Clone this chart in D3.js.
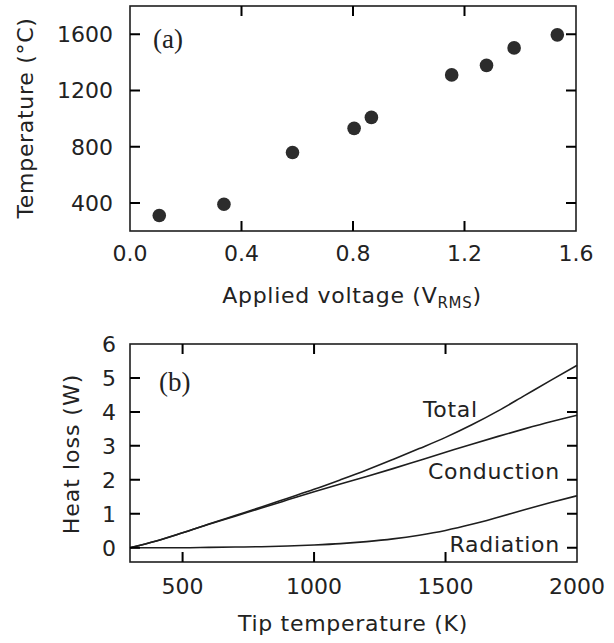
<!DOCTYPE html>
<html>
<head>
<meta charset="utf-8">
<script src="https://cdn.jsdelivr.net/npm/d3@7"></script>
<style>
  html, body { margin: 0; padding: 0; background: #fff; }
  svg { display: block; }
  text { font-family: "DejaVu Sans", sans-serif; fill: #222; }
</style>
</head>
<body>
<svg id="chart" width="614" height="643"></svg>
<script>
// ---------- Panel (a) data ----------
const voltage = [0.105, 0.337, 0.583, 0.804, 0.866, 1.154, 1.279, 1.378, 1.533];
const temperature = [310, 390, 758, 930, 1008, 1310, 1378, 1502, 1595];
const xTicksA = [0.0, 0.4, 0.8, 1.2, 1.6];
const yTicksA = [400, 800, 1200, 1600];

// ---------- Panel (b) data ----------
const tipTemp    = [300, 400, 500, 600, 700, 800, 900, 1000, 1100, 1200, 1300, 1400, 1500, 1600, 1700, 1800, 1900, 2000];
const conduction = [0, 0.20, 0.44, 0.69, 0.93, 1.17, 1.41, 1.65, 1.88, 2.10, 2.33, 2.57, 2.81, 3.05, 3.28, 3.50, 3.71, 3.90];
const radiation  = [0, 0.00, 0.00, 0.01, 0.02, 0.03, 0.05, 0.08, 0.12, 0.18, 0.26, 0.37, 0.51, 0.69, 0.90, 1.12, 1.33, 1.53];
const total      = [0, 0.20, 0.44, 0.70, 0.95, 1.20, 1.46, 1.72, 2.00, 2.29, 2.60, 2.92, 3.25, 3.62, 4.03, 4.48, 4.93, 5.37];
const xTicksB = [500, 1000, 1500, 2000];
const yTicksB = [0, 1, 2, 3, 4, 5, 6];
const curveNames = ["Total", "Conduction", "Radiation"];

const svg = d3.select("#chart");
const ink = "#1e1e1e";
const tickInk = "#000000";
const TL = 10;

// scales
const xA = d3.scaleLinear().domain([0, 1.6]).range([130, 576]);
const yA = d3.scaleLinear().domain([200, 1800]).range([231, 6]);
const xB = d3.scaleLinear().domain([300, 2000]).range([130, 577]);
const yB = d3.scaleLinear().domain([-0.42, 6]).range([562, 344]);

// build inward tick segments for both panels from the scales
const tickSegs = [];
function collectTicks(x, y, xInner, yInner) {
  const [x0, x1] = x.range();
  const [y0, y1] = y.range();
  xInner.forEach(v => {
    tickSegs.push([x(v), y0, x(v), y0 - TL]);
    tickSegs.push([x(v), y1, x(v), y1 + TL]);
  });
  yInner.forEach(v => {
    tickSegs.push([x0, y(v), x0 + TL, y(v)]);
    tickSegs.push([x1, y(v), x1 - TL, y(v)]);
  });
}
collectTicks(xA, yA, [0.4, 0.8, 1.2], yTicksA);
collectTicks(xB, yB, [500, 1000, 1500], [0, 1, 2, 3, 4, 5]);

function framePanel(g, x, y, xt, yt, xfmt, yfmt, padX, padY) {
  const [x0, x1] = x.range();
  const [y0, y1] = y.range();
  g.append("rect").attr("x", x0).attr("y", y1).attr("width", x1 - x0).attr("height", y0 - y1)
    .attr("fill", "none").attr("stroke", ink).attr("stroke-width", 1.6);
  g.selectAll("text.xl").data(xt).enter().append("text").attr("class", "xl")
    .attr("x", d => x(d)).attr("y", y0 + padX).attr("text-anchor", "middle")
    .attr("dominant-baseline", "hanging").style("font-size", "22px").text(xfmt);
  g.selectAll("text.yl").data(yt).enter().append("text").attr("class", "yl")
    .attr("x", x0 - padY).attr("y", d => y(d)).attr("dy", "0.36em").attr("text-anchor", "end")
    .style("font-size", "22px").text(yfmt);
}

// ================= Panel (a) =================
const ga = svg.append("g");
framePanel(ga, xA, yA, xTicksA, yTicksA, d3.format(".1f"), d3.format("d"), 14, 17);

ga.selectAll("circle.pt").data(voltage.map((v, i) => ({ v, t: temperature[i] })))
  .enter().append("circle").attr("class", "pt")
  .attr("cx", d => xA(d.v)).attr("cy", d => yA(d.t)).attr("r", 6.8)
  .attr("fill", "#2c2c2c");

ga.append("text").attr("x", 153).attr("y", 48)
  .style("font-family", "'Liberation Serif', 'Times New Roman', serif").style("font-size", "27px")
  .text("(a)");

const tA = ga.append("text").attr("x", 352).attr("y", 303).attr("text-anchor", "middle")
  .style("font-size", "22px").style("letter-spacing", "0.7px");
tA.append("tspan").text("Applied voltage (V");
tA.append("tspan").attr("dy", 5).style("font-size", "15px").text("RMS");
tA.append("tspan").attr("dy", -5).text(")");

ga.append("text").attr("transform", "translate(33,118) rotate(-90)").attr("text-anchor", "middle")
  .style("font-size", "22px").style("letter-spacing", "0.7px").text("Temperature (°C)");

// ================= Panel (b) =================
const gbp = svg.append("g");
framePanel(gbp, xB, yB, xTicksB, yTicksB, d3.format("d"), d3.format("d"), 16, 14);

const series = [total, conduction, radiation];
const lineGen = d3.line().x((d, i) => xB(tipTemp[i])).y(d => yB(d)).curve(d3.curveMonotoneX);
gbp.selectAll("path.curve").data(series).enter().append("path").attr("class", "curve")
  .attr("d", d => lineGen(d)).attr("fill", "none").attr("stroke", ink).attr("stroke-width", 1.6);

const labelAnchors = [[1623, 3.84], [1935, 2.02], [1935, -0.13]];
gbp.selectAll("text.clabel").data(curveNames).enter().append("text").attr("class", "clabel")
  .attr("x", (d, i) => xB(labelAnchors[i][0])).attr("y", (d, i) => yB(labelAnchors[i][1]))
  .attr("text-anchor", "end").style("font-size", "22px").style("letter-spacing", "0.7px")
  .text(d => d);

gbp.append("text").attr("x", 159).attr("y", 391)
  .style("font-family", "'Liberation Serif', 'Times New Roman', serif").style("font-size", "27px")
  .text("(b)");

gbp.append("text").attr("x", 353).attr("y", 631).attr("text-anchor", "middle")
  .style("font-size", "22px").style("letter-spacing", "0.7px").text("Tip temperature (K)");

gbp.append("text").attr("transform", "translate(79,454) rotate(-90)").attr("text-anchor", "middle")
  .style("font-size", "22px").style("letter-spacing", "1px").text("Heat loss (W)");

// tick marks drawn last, on top, as one path
const tickPath = d3.path();
tickSegs.forEach(([a, b, c, e]) => { tickPath.moveTo(a, b); tickPath.lineTo(c, e); });
svg.append("path").attr("d", tickPath.toString()).attr("fill", "none")
  .attr("stroke", tickInk).attr("stroke-width", 2);
</script>
</body>
</html>
